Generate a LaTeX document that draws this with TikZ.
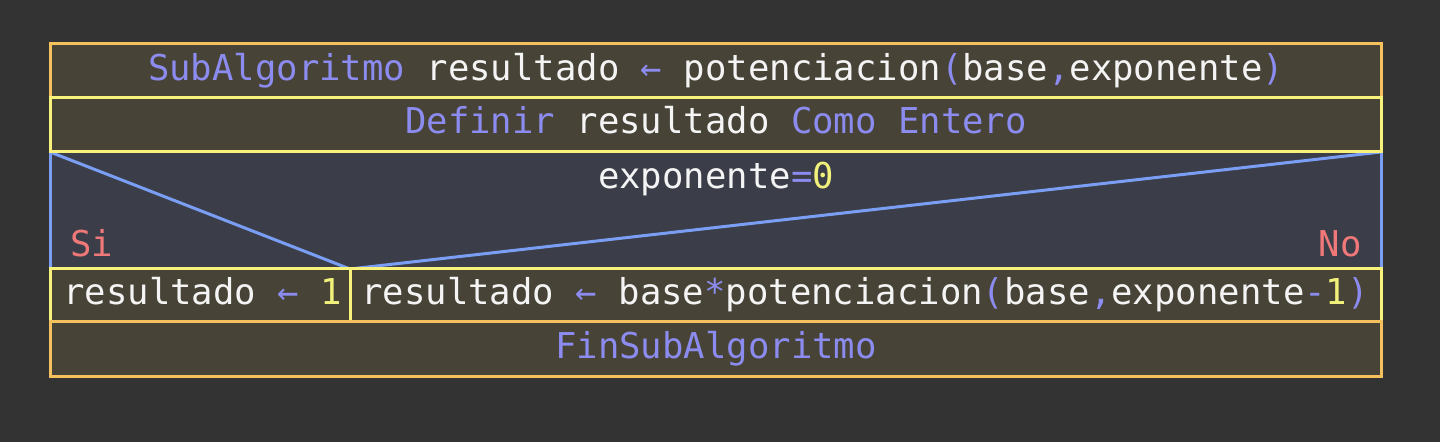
\documentclass[tikz,border=0pt]{standalone}
\usepackage{fontspec}
\setmonofont{DejaVu Sans Mono}
\definecolor{bg}{HTML}{333333}
\definecolor{rowfill}{HTML}{474337}
\definecolor{condfill}{HTML}{3B3E49}
\definecolor{orangeb}{HTML}{F5C15E}
\definecolor{yellowb}{HTML}{F8F27A}
\definecolor{blueb}{HTML}{7B9EF5}
\definecolor{kw}{HTML}{8C8CF0}
\definecolor{num}{HTML}{F0F07A}
\definecolor{redt}{HTML}{F07878}
\definecolor{idt}{HTML}{F4F4F4}
\newcommand{\kw}[1]{\textcolor{kw}{#1}}
\newcommand{\nm}[1]{\textcolor{num}{#1}}
\newcommand{\la}{\kw{←}}
\begin{document}
\begin{tikzpicture}[x=0.5pt,y=-0.5pt,
  txt/.style={inner sep=0pt,font=\ttfamily\fontsize{17.8}{20}\selectfont,text=idt},
  orow/.style={draw=orangeb,fill=rowfill,line width=1.5pt},
  yrow/.style={draw=yellowb,fill=rowfill,line width=1.5pt},
  crow/.style={draw=blueb,fill=condfill,line width=1.5pt},
  diag/.style={draw=blueb,line width=1.5pt}]
\fill[bg] (0,0) rectangle (1440,442);
\useasboundingbox (0,0) rectangle (1440,442);
% condition region
\path[crow] (50,152) rectangle (1381,269);
\coordinate (cTL) at (50,152);
\coordinate (cTR) at (1381,152);
\coordinate (cB) at (350,269);
\draw[diag] (cTL) -- (cB) -- (cTR);
% rows
\path[orow] (50,44) rectangle (1381,98);
\path[yrow] (50,98) rectangle (1381,152);
\path[yrow] (50,269) rectangle (350,322);
\path[yrow] (350,269) rectangle (1381,322);
\path[orow] (50,322) rectangle (1381,377);
% texts
\node[txt,anchor=base] (t1) at (716,81) {\kw{SubAlgoritmo} resultado \la{} potenciacion\kw{(}base\kw{,}exponente\kw{)}};
\node[txt,anchor=base] (t2) at (716,134) {\kw{Definir} resultado \kw{Como} \kw{Entero}};
\node[txt,anchor=base] (t3) at (716,189) {exponente\kw{=}\nm{0}};
\node[txt,anchor=base west,text=redt] (si) at (70,257) {Si};
\node[txt,anchor=base east,text=redt] (no) at (1362,257) {No};
\node[txt,anchor=base west] (t4) at (63,305) {resultado \la{} \nm{1}};
\node[txt,anchor=base west] (t5) at (361,305) {resultado \la{} base\kw{*}potenciacion\kw{(}base\kw{,}exponente\kw{-}\nm{1}\kw{)}};
\node[txt,anchor=base,text=kw] (t6) at (716,359) {FinSubAlgoritmo};
\end{tikzpicture}
\end{document}
